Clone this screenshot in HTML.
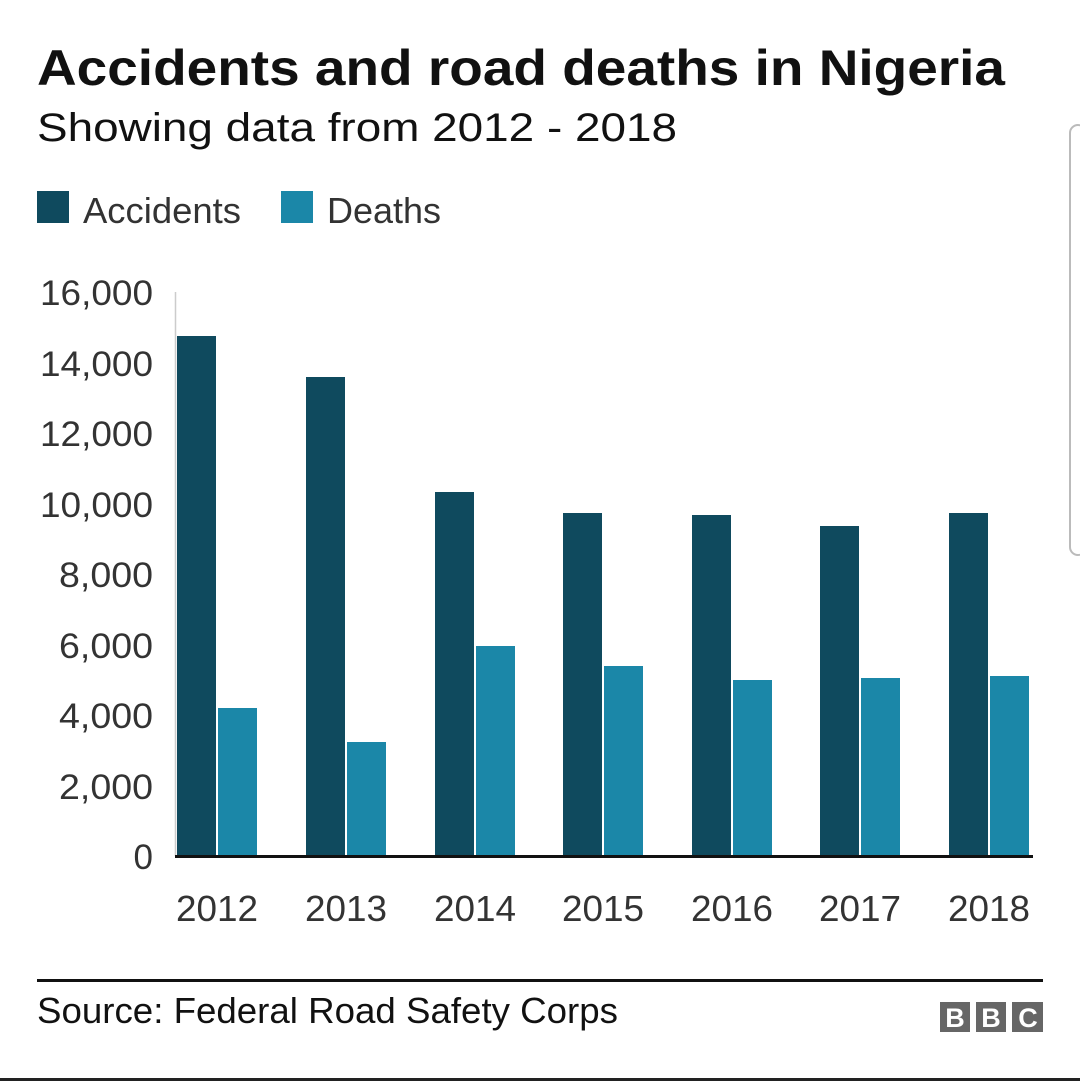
<!DOCTYPE html>
<html><head><style>
html,body{margin:0;padding:0;background:#fff;}
svg{display:block;}
text{font-family:"Liberation Sans",Arial,sans-serif;}
</style></head><body>
<svg width="1080" height="1081" viewBox="0 0 1080 1081" xmlns="http://www.w3.org/2000/svg">
<rect width="1080" height="1081" fill="#fff"/>
<text x="37" y="85" font-size="50" font-weight="bold" fill="#111" textLength="968" lengthAdjust="spacingAndGlyphs">Accidents and road deaths in Nigeria</text>
<text x="37" y="141" font-size="40" fill="#111" textLength="640" lengthAdjust="spacingAndGlyphs">Showing data from 2012 - 2018</text>
<rect x="37" y="191" width="32" height="32" fill="#0f4a5e"/>
<text x="83" y="223" font-size="36" fill="#333" textLength="158" lengthAdjust="spacingAndGlyphs">Accidents</text>
<rect x="281" y="191" width="32" height="32" fill="#1b87a8"/>
<text x="327" y="223" font-size="36" fill="#333" textLength="114" lengthAdjust="spacingAndGlyphs">Deaths</text>
<g font-size="35" fill="#333" text-anchor="end">
<text x="153" y="305" textLength="113" lengthAdjust="spacingAndGlyphs">16,000</text>
<text x="153" y="376" textLength="113" lengthAdjust="spacingAndGlyphs">14,000</text>
<text x="153" y="446" textLength="113" lengthAdjust="spacingAndGlyphs">12,000</text>
<text x="153" y="517" textLength="113" lengthAdjust="spacingAndGlyphs">10,000</text>
<text x="153" y="587" textLength="94" lengthAdjust="spacingAndGlyphs">8,000</text>
<text x="153" y="658" textLength="94" lengthAdjust="spacingAndGlyphs">6,000</text>
<text x="153" y="728" textLength="94" lengthAdjust="spacingAndGlyphs">4,000</text>
<text x="153" y="799" textLength="94" lengthAdjust="spacingAndGlyphs">2,000</text>
<text x="153" y="869">0</text>
</g>
<line x1="175.5" y1="292" x2="175.5" y2="856" stroke="#ccc" stroke-width="1.5"/>
<g fill="#0f4a5e">
<rect x="177" y="336" width="39" height="520"/>
<rect x="306" y="377" width="39" height="479"/>
<rect x="435" y="492" width="39" height="364"/>
<rect x="563" y="513" width="39" height="343"/>
<rect x="692" y="515" width="39" height="341"/>
<rect x="820" y="526" width="39" height="330"/>
<rect x="949" y="513" width="39" height="343"/>
</g>
<g fill="#1b87a8">
<rect x="218" y="708" width="39" height="148"/>
<rect x="347" y="742" width="39" height="114"/>
<rect x="476" y="646" width="39" height="210"/>
<rect x="604" y="666" width="39" height="190"/>
<rect x="733" y="680" width="39" height="176"/>
<rect x="861" y="678" width="39" height="178"/>
<rect x="990" y="676" width="39" height="180"/>
</g>
<line x1="175" y1="856.5" x2="1033" y2="856.5" stroke="#111" stroke-width="3"/>
<g font-size="36" fill="#333" text-anchor="middle">
<text x="217" y="921" textLength="82" lengthAdjust="spacingAndGlyphs">2012</text>
<text x="346" y="921" textLength="82" lengthAdjust="spacingAndGlyphs">2013</text>
<text x="475" y="921" textLength="82" lengthAdjust="spacingAndGlyphs">2014</text>
<text x="603" y="921" textLength="82" lengthAdjust="spacingAndGlyphs">2015</text>
<text x="732" y="921" textLength="82" lengthAdjust="spacingAndGlyphs">2016</text>
<text x="860" y="921" textLength="82" lengthAdjust="spacingAndGlyphs">2017</text>
<text x="989" y="921" textLength="82" lengthAdjust="spacingAndGlyphs">2018</text>
</g>
<line x1="37" y1="980.5" x2="1043" y2="980.5" stroke="#111" stroke-width="3"/>
<text x="37" y="1023" font-size="36" fill="#111" textLength="581" lengthAdjust="spacingAndGlyphs">Source: Federal Road Safety Corps</text>
<g fill="#666">
<rect x="940" y="1002" width="30" height="30"/>
<rect x="976" y="1002" width="30" height="30"/>
<rect x="1012" y="1002" width="31" height="30"/>
</g>
<g fill="#fff" font-size="27" font-weight="bold" text-anchor="middle">
<text x="955" y="1027">B</text>
<text x="991" y="1027">B</text>
<text x="1028" y="1027">C</text>
</g>
<rect x="1070" y="125" width="16" height="430" rx="8" fill="#fff" stroke="#bbb" stroke-width="2"/>
<line x1="0" y1="1079.5" x2="1080" y2="1079.5" stroke="#222" stroke-width="3"/>
</svg>
</body></html>
